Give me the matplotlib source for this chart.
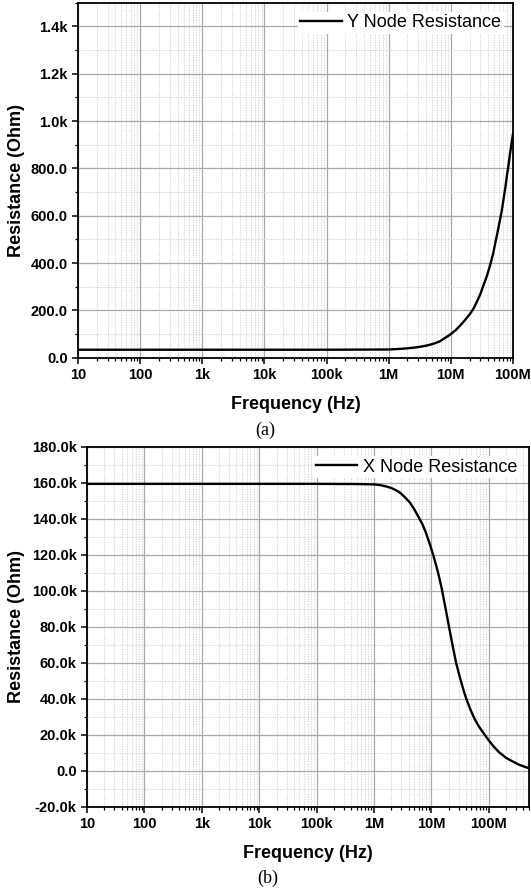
import numpy as np
import matplotlib.pyplot as plt
from matplotlib.ticker import FixedLocator, FixedFormatter, LogLocator, NullFormatter, MultipleLocator

plt.rcParams["font.family"] = ["Liberation Sans", "DejaVu Sans"]

# (a) Y node resistance vs frequency (Ohm)
freq_y = [1e1, 1e2, 1e3, 1e4, 1e5, 1e6, 1.3e6, 1.6e6, 2e6, 2.6e6, 3.3e6, 4.3e6,
          5.5e6, 6.6e6, 8e6, 1e7, 1.2e7, 1.4e7, 1.7e7, 2.03e7, 2.3e7, 2.6e7,
          3e7, 3.34e7, 3.8e7, 4.3e7, 4.8e7, 5.2e7, 5.7e7, 6.1e7, 6.6e7, 7.1e7,
          7.6e7, 8e7, 8.5e7, 9e7, 9.5e7, 1e8]
res_y = [34, 34, 34, 34, 34, 35, 36.5, 38, 40, 43, 47, 53,
         61, 69, 83, 100, 117, 135, 160, 185, 206, 234,
         270, 305, 345, 392, 440, 485, 535, 575, 620, 675,
         725, 770, 815, 865, 905, 945]

# (b) X node resistance vs frequency (Ohm)
freq_x = [1e1, 1e2, 1e3, 1e4, 1e5, 5e5, 1e6, 1.3e6, 1.66e6, 2e6, 2.4e6, 2.84e6,
          3.4e6, 4.25e6, 5e6, 6e6, 7e6, 8e6, 9.4e6, 1.1e7, 1.3e7, 1.5e7,
          1.75e7, 2.03e7, 2.35e7, 2.7e7, 3.2e7, 3.7e7, 4.07e7, 4.8e7, 5.67e7,
          6.7e7, 7.6e7, 8.45e7, 1e8, 1.2e8, 1.5e8, 2e8, 2.64e8, 3.3e8, 4e8, 5e8]
res_x = [159500, 159500, 159500, 159500, 159500, 159400, 159200, 158800, 158000,
         157200, 156000, 154600, 152300, 149000, 145500, 141000, 137000, 132500,
         126000, 119000, 110500, 102000, 91000, 80000, 69500, 60000, 51000,
         44000, 40000, 34000, 28900, 24800, 22300, 20200, 17000, 13800, 10500,
         7300, 5200, 3600, 2600, 1500]

freq_ticks = [1e1, 1e2, 1e3, 1e4, 1e5, 1e6, 1e7, 1e8]
freq_labels = ["10", "100", "1k", "10k", "100k", "1M", "10M", "100M"]

ticks_a = [0, 200, 400, 600, 800, 1000, 1200, 1400]
labels_a = ["0.0", "200.0", "400.0", "600.0", "800.0", "1.0k", "1.2k", "1.4k"]
ticks_b = [-20000, 0, 20000, 40000, 60000, 80000, 100000, 120000, 140000, 160000, 180000]
labels_b = ["-20.0k", "0.0", "20.0k", "40.0k", "60.0k", "80.0k", "100.0k",
            "120.0k", "140.0k", "160.0k", "180.0k"]


def style_axes(ax, yticks, ylabels, yminor, xlim, ylim):
    ax.set_xscale("log")
    ax.set_xlim(*xlim)
    ax.set_ylim(*ylim)
    ax.xaxis.set_major_locator(FixedLocator(freq_ticks))
    ax.xaxis.set_major_formatter(FixedFormatter(freq_labels))
    ax.xaxis.set_minor_locator(LogLocator(base=10, subs=np.arange(2, 10), numticks=20))
    ax.xaxis.set_minor_formatter(NullFormatter())
    ax.yaxis.set_major_locator(FixedLocator(yticks))
    ax.yaxis.set_major_formatter(FixedFormatter(ylabels))
    ax.yaxis.set_minor_locator(MultipleLocator(yminor))
    ax.tick_params(which="major", direction="out", length=4.5, width=1.1,
                   labelsize=10.5, pad=3)
    ax.tick_params(which="minor", direction="out", length=2.5, width=0.9)
    for lab in ax.get_xticklabels() + ax.get_yticklabels():
        lab.set_fontweight("bold")
    for sp in ax.spines.values():
        sp.set_linewidth(1.3)
    ax.set_axisbelow(True)
    ax.grid(which="major", color="#a9a9a9", lw=0.9)
    ax.grid(which="minor", color="#cfcfcf", lw=0.6, ls=(0, (1.5, 1.5)))
    ax.set_xlabel("Frequency (Hz)", fontsize=13, fontweight="bold", labelpad=10)
    ax.set_ylabel("Resistance (Ohm)", fontsize=13, fontweight="bold")


fig = plt.figure(figsize=(5.31, 8.90), dpi=100)

ax1 = fig.add_axes([0.147, 0.598, 0.819, 0.399])
ax1.plot(freq_y, res_y, color="black", lw=1.7, label="Y Node Resistance")
style_axes(ax1, ticks_a, labels_a, 100, (1e1, 1e8), (0, 1500))
ax1.yaxis.set_label_coords(-0.122, 0.5)
ax1.legend(loc="upper right", frameon=True, facecolor="white", edgecolor="none",
           framealpha=1, fancybox=False, fontsize=13, handlelength=2.3,
           handletextpad=0.3, borderpad=0.15, borderaxespad=0.5)

ax2 = fig.add_axes([0.164, 0.0933, 0.832, 0.4045])
ax2.plot(freq_x, res_x, color="black", lw=1.7, label="X Node Resistance")
style_axes(ax2, ticks_b, labels_b, 10000, (1e1, 5e8), (-20000, 180000))
ax2.yaxis.set_label_coords(-0.14, 0.5)
ax2.legend(loc="upper right", frameon=True, facecolor="white", edgecolor="none",
           framealpha=1, fancybox=False, fontsize=13, handlelength=2.3,
           handletextpad=0.3, borderpad=0.15, borderaxespad=0.5)

fig.text(0.5, 1 - 430 / 890, "(a)", ha="center", va="center",
         family="Liberation Serif", fontsize=13)
fig.text(0.504, 1 - 878 / 890, "(b)", ha="center", va="center",
         family="Liberation Serif", fontsize=13)

fig.savefig("out.png", dpi=100)
